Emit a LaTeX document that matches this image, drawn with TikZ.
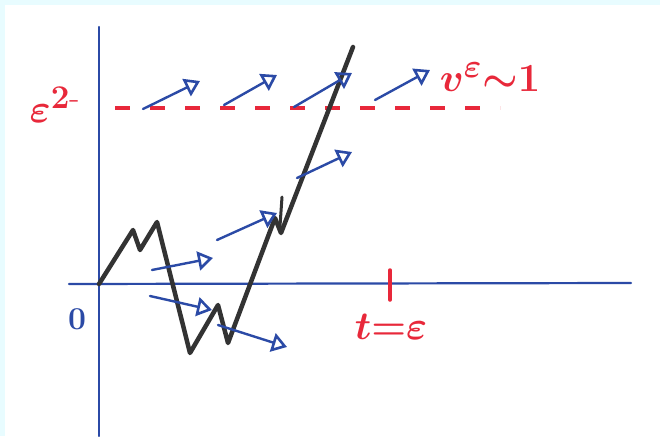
\documentclass[tikz,border=0pt]{standalone}
\usepackage{amsmath}
\usetikzlibrary{arrows.meta}
\definecolor{pen}{HTML}{2B4AA6}
\definecolor{redpen}{HTML}{E8283A}
\definecolor{ink}{HTML}{333333}
\definecolor{edgecol}{HTML}{E8FCFF}
\begin{document}
\begin{tikzpicture}[x=1pt,y=-1pt,
  axis/.style={pen, line width=2.2pt, line cap=round},
  vec/.style={pen, line width=2.4pt, line cap=round,
    -{Triangle[open, length=15pt, width=19pt, line width=2.6pt]}},
  walk/.style={ink, line width=4.5pt, line join=round, line cap=round},
  redtick/.style={redpen, line width=3.5pt, line cap=round},
  reddash/.style={redpen, line width=3.5pt, dash pattern=on 15pt off 20pt},
  lab/.style={redpen, font=\Huge\boldmath, scale=1.6, inner sep=0pt}]
\fill[edgecol] (0,0) rectangle (660,436);
\fill[white] (5,5) rectangle (660,436);
\useasboundingbox (0,0) rectangle (660,436);

% axes
\coordinate (O) at (99,284);
\coordinate (ytop) at (99,27);
\coordinate (ybot) at (99,436);
\coordinate (xleft) at (69,284);
\coordinate (xright) at (631,283);
\draw[axis] (ybot) -- (ytop);
\draw[axis] (xleft) -- (xright);

% tick at t = eps
\coordinate (tka) at (390,270);
\coordinate (tkb) at (390,300);
\draw[redtick] (tka) -- (tkb);

% red dashed level
\coordinate (dl) at (115,108);
\coordinate (dr) at (500,108);
\draw[reddash] (dl) -- (dr);

% black path
\draw[walk] (O) -- (133,230) -- (140,250) -- (157,222) -- (190,353) -- (218,305)
  -- (228,343) -- (275,218) -- (281,233) -- (353,47);
\draw[walk, line width=3pt] (282,197) -- (280,226);

% blue vectors
\coordinate (a1) at (143,109); \coordinate (b1) at (200,81);
\coordinate (a2) at (224,105); \coordinate (b2) at (277,75);
\coordinate (a3) at (294,107); \coordinate (b3) at (352,73);
\coordinate (a4) at (375,100); \coordinate (b4) at (430,70);
\coordinate (a5) at (297,178); \coordinate (b5) at (352,152);
\coordinate (a6) at (217,240); \coordinate (b6) at (277,213);
\coordinate (a7) at (152,270); \coordinate (b7) at (213,258);
\coordinate (a8) at (150,296); \coordinate (b8) at (212,310);
\coordinate (a9) at (218,325); \coordinate (b9) at (287,347);
\foreach \i in {1,...,9} \draw[vec] (a\i) -- (b\i);

% labels
\node[lab] (epslab) at (55,105) {$\varepsilon^{2\text{-}}$};
\node[lab] (vlab) at (490,77) {$v^{\varepsilon}{\sim}1$};
\node[lab] (tlab) at (391,327) {$t{=}\varepsilon$};
\node[lab, pen, scale=0.8] (zero) at (77,319) {$0$};
\end{tikzpicture}
\end{document}
